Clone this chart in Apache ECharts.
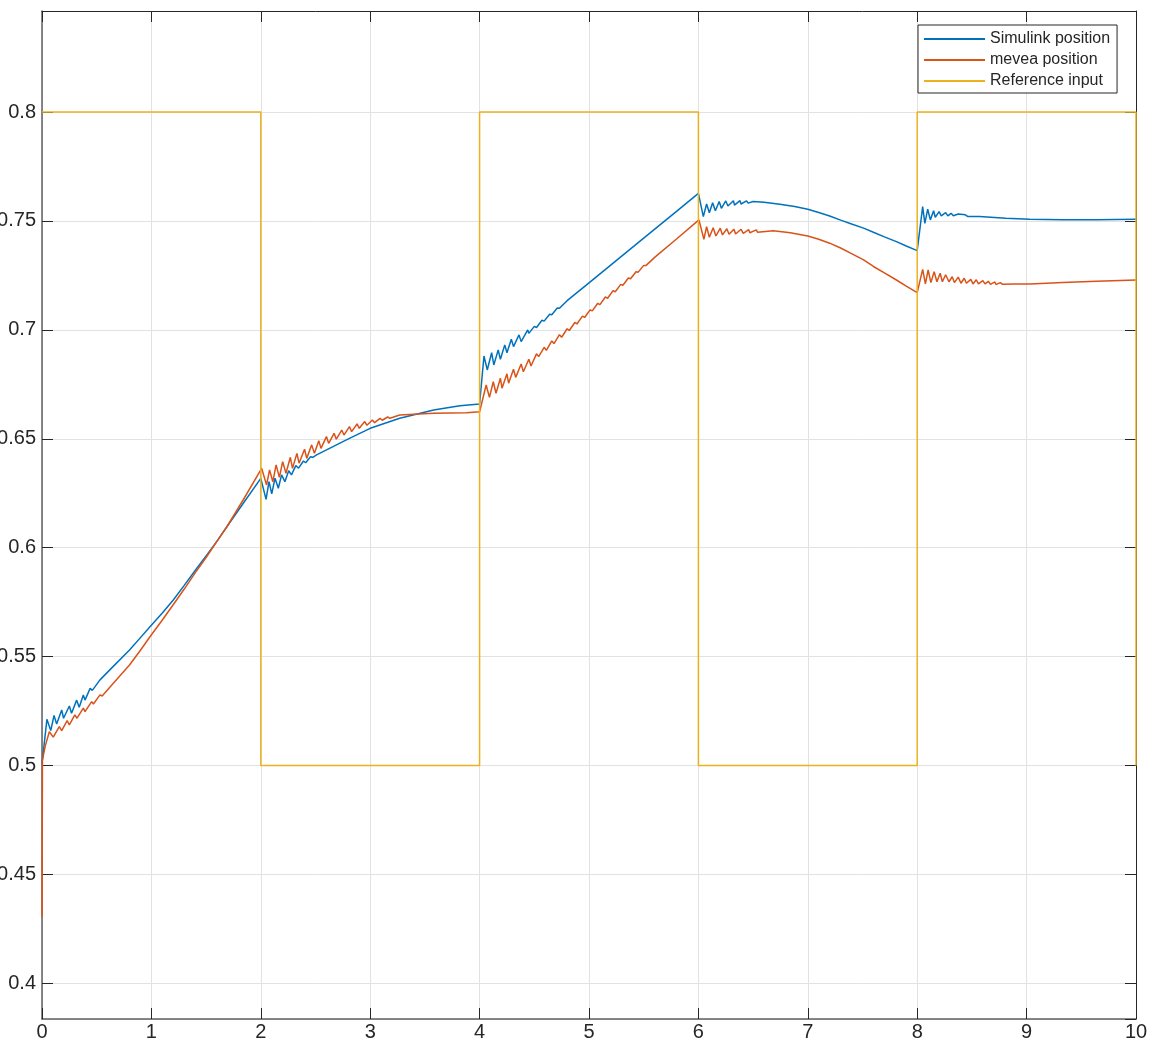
<!DOCTYPE html>
<html>
<head>
<meta charset="utf-8">
<title>Position response</title>
<script src="https://cdn.jsdelivr.net/npm/echarts@6/dist/echarts.min.js"></script>
<style>
  html, body { margin: 0; padding: 0; background: #fff; }
  #chart { width: 1154px; height: 1043px; }
</style>
</head>
<body>
<div id="chart"></div>
<script>
// Time axis ticks (s)
const xTicks = [0, 1, 2, 3, 4, 5, 6, 7, 8, 9, 10];

// Simulink model response: [time, position]
const simulinkPos = [
  [0.000, 0.5008], [0.045, 0.5212], [0.080, 0.5160], [0.110, 0.5230], [0.134, 0.5190],
  [0.180, 0.5255], [0.197, 0.5217], [0.250, 0.5273], [0.270, 0.5240], [0.317, 0.5300],
  [0.340, 0.5267], [0.378, 0.5324], [0.393, 0.5300], [0.440, 0.5354], [0.460, 0.5345],
  [0.530, 0.5393], [0.620, 0.5439], [0.800, 0.5530], [0.900, 0.5587], [0.987, 0.5637],
  [1.100, 0.5700], [1.200, 0.5760], [1.300, 0.5827], [1.400, 0.5895], [1.500, 0.5962],
  [1.600, 0.6030], [1.690, 0.6096], [1.840, 0.6204], [2.000, 0.6318],
  [2.048, 0.6222], [2.075, 0.6303], [2.100, 0.6247], [2.130, 0.6319], [2.160, 0.6273],
  [2.190, 0.6334], [2.220, 0.6303], [2.255, 0.6353], [2.280, 0.6334], [2.320, 0.6377],
  [2.345, 0.6365], [2.390, 0.6398], [2.410, 0.6390], [2.455, 0.6417], [2.475, 0.6415],
  [2.510, 0.6426], [2.660, 0.6464], [2.810, 0.6502], [3.000, 0.6548], [3.270, 0.6594],
  [3.580, 0.6632], [3.820, 0.6652], [4.000, 0.6660], [4.040, 0.6880], [4.070, 0.6816],
  [4.110, 0.6895], [4.130, 0.6839], [4.170, 0.6908], [4.190, 0.6865], [4.230, 0.6931],
  [4.250, 0.6895], [4.290, 0.6957], [4.310, 0.6923], [4.360, 0.6977], [4.380, 0.6946],
  [4.440, 0.7000], [4.450, 0.6984], [4.500, 0.7016], [4.520, 0.7011], [4.570, 0.7044],
  [4.590, 0.7040], [4.640, 0.7072], [4.660, 0.7069], [4.710, 0.7100], [4.730, 0.7099],
  [4.800, 0.7134], [5.000, 0.7216], [5.500, 0.7421], [5.800, 0.7544], [6.000, 0.7627],
  [6.045, 0.7520], [6.075, 0.7578], [6.100, 0.7538], [6.130, 0.7584], [6.155, 0.7547],
  [6.190, 0.7589], [6.210, 0.7558], [6.250, 0.7592], [6.270, 0.7569], [6.320, 0.7593],
  [6.330, 0.7573], [6.380, 0.7593], [6.390, 0.7578], [6.440, 0.7592], [6.455, 0.7582],
  [6.500, 0.7589], [6.600, 0.7586], [6.745, 0.7577], [6.880, 0.7566], [7.000, 0.7554],
  [7.100, 0.7539], [7.200, 0.7523], [7.300, 0.7504], [7.400, 0.7486], [7.510, 0.7467],
  [7.600, 0.7448], [7.700, 0.7427], [7.810, 0.7405], [7.900, 0.7385], [8.000, 0.7364],
  [8.050, 0.7566], [8.070, 0.7489],
  [8.096, 0.7554], [8.120, 0.7505], [8.150, 0.7547], [8.165, 0.7517], [8.200, 0.7543],
  [8.220, 0.7523], [8.260, 0.7538], [8.280, 0.7523], [8.310, 0.7535], [8.330, 0.7524],
  [8.375, 0.7532], [8.390, 0.7523], [8.440, 0.7528], [8.460, 0.7521], [8.570, 0.7520],
  [8.810, 0.7512], [9.030, 0.7508], [9.330, 0.7505], [9.640, 0.7505], [10.000, 0.7508]
];

// Mevea model response: [time, position]
const meveaPos = [
  [0.000, 0.4305], [0.004, 0.5025], [0.030, 0.5090], [0.067, 0.5155], [0.103, 0.5130],
  [0.158, 0.5178], [0.180, 0.5160], [0.230, 0.5206], [0.250, 0.5186], [0.300, 0.5232],
  [0.320, 0.5217], [0.378, 0.5263], [0.393, 0.5247], [0.454, 0.5293], [0.470, 0.5282],
  [0.530, 0.5324], [0.550, 0.5319], [0.620, 0.5359], [0.800, 0.5461], [0.900, 0.5529],
  [0.987, 0.5591], [1.100, 0.5668], [1.230, 0.5760], [1.300, 0.5810], [1.400, 0.5884],
  [1.500, 0.5955], [1.600, 0.6030], [1.690, 0.6096], [1.840, 0.6220],
  [2.008, 0.6364], [2.053, 0.6288], [2.080, 0.6357], [2.110, 0.6303], [2.140, 0.6380],
  [2.170, 0.6323], [2.200, 0.6395], [2.230, 0.6342], [2.270, 0.6415], [2.290, 0.6364],
  [2.330, 0.6433], [2.350, 0.6388], [2.400, 0.6452], [2.420, 0.6410], [2.465, 0.6472],
  [2.490, 0.6433], [2.530, 0.6491], [2.550, 0.6456], [2.600, 0.6510], [2.620, 0.6479],
  [2.670, 0.6525], [2.690, 0.6498], [2.740, 0.6540], [2.760, 0.6517], [2.810, 0.6556],
  [2.830, 0.6533], [2.880, 0.6568], [2.900, 0.6548], [2.950, 0.6579], [2.970, 0.6562],
  [3.020, 0.6586], [3.040, 0.6574], [3.090, 0.6594], [3.110, 0.6585], [3.160, 0.6600],
  [3.180, 0.6594], [3.270, 0.6609], [3.580, 0.6617], [3.880, 0.6620], [4.000, 0.6624],
  [4.060, 0.6747], [4.090, 0.6690], [4.125, 0.6762], [4.150, 0.6709], [4.190, 0.6778],
  [4.205, 0.6732], [4.250, 0.6798], [4.265, 0.6755], [4.310, 0.6819], [4.330, 0.6782],
  [4.380, 0.6843], [4.400, 0.6808], [4.450, 0.6865], [4.470, 0.6834], [4.520, 0.6890],
  [4.540, 0.6877], [4.590, 0.6920], [4.610, 0.6906], [4.660, 0.6949], [4.680, 0.6937],
  [4.730, 0.6978], [4.750, 0.6966], [4.800, 0.7005], [4.820, 0.6997], [4.870, 0.7034],
  [4.890, 0.7027], [4.940, 0.7063], [4.960, 0.7057], [5.010, 0.7092], [5.030, 0.7087],
  [5.080, 0.7122], [5.100, 0.7116], [5.150, 0.7151], [5.170, 0.7145], [5.220, 0.7180],
  [5.240, 0.7175], [5.290, 0.7209], [5.310, 0.7205], [5.360, 0.7238], [5.380, 0.7235],
  [5.430, 0.7267], [5.450, 0.7265], [5.500, 0.7296], [5.520, 0.7295], [5.600, 0.7333],
  [5.800, 0.7417], [6.005, 0.7505], [6.050, 0.7416], [6.075, 0.7474], [6.100, 0.7425],
  [6.135, 0.7469], [6.160, 0.7431], [6.200, 0.7467], [6.220, 0.7436], [6.260, 0.7464],
  [6.280, 0.7439], [6.325, 0.7462], [6.340, 0.7440], [6.390, 0.7462], [6.410, 0.7443],
  [6.460, 0.7460], [6.470, 0.7446], [6.530, 0.7459], [6.540, 0.7448], [6.685, 0.7455],
  [6.840, 0.7446], [7.000, 0.7431], [7.100, 0.7416], [7.200, 0.7398], [7.300, 0.7376],
  [7.400, 0.7350], [7.510, 0.7321], [7.600, 0.7291], [7.700, 0.7262], [7.810, 0.7229],
  [7.900, 0.7201], [8.000, 0.7171], [8.050, 0.7278], [8.075, 0.7211], [8.100, 0.7275], [8.125, 0.7217],
  [8.155, 0.7267], [8.180, 0.7221], [8.210, 0.7260], [8.230, 0.7221], [8.260, 0.7253],
  [8.290, 0.7221], [8.320, 0.7244], [8.340, 0.7217], [8.375, 0.7242], [8.400, 0.7214],
  [8.430, 0.7237], [8.450, 0.7214], [8.490, 0.7232], [8.510, 0.7211], [8.540, 0.7230],
  [8.560, 0.7211], [8.600, 0.7226], [8.620, 0.7211], [8.650, 0.7223], [8.670, 0.7209],
  [8.710, 0.7220], [8.720, 0.7208], [8.760, 0.7217], [8.780, 0.7209], [8.880, 0.7211],
  [9.030, 0.7211], [9.330, 0.7217], [9.640, 0.7223], [10.000, 0.7229]
];

// Square-wave reference command: [time, position]
const referenceInput = [
  [0, 0.8], [2, 0.8], [2, 0.5], [4, 0.5], [4, 0.8], [6, 0.8],
  [6, 0.5], [8, 0.5], [8, 0.8], [10, 0.8], [10, 0.5]
];

const seriesNames = ['Simulink position', 'mevea position', 'Reference input'];
const seriesColors = ['#0072BD', '#D95319', '#EDB120'];

const FONT = '"Liberation Sans", Arial, Helvetica, sans-serif';
const Y_MIN = 0.3836, Y_MAX = 0.8464;

const chart = echarts.init(document.getElementById('chart'), null, { renderer: 'canvas' });

// Top and right frame edges: line plus inward ticks, no labels
const frameAxis = {
  axisLine: { show: true, onZero: false, lineStyle: { color: '#262626', width: 1 } },
  axisTick: { show: true, inside: true, length: 11, lineStyle: { color: '#262626', width: 1 } },
  axisLabel: { show: false },
  splitLine: { show: false }
};

chart.setOption({
  animation: false,
  backgroundColor: '#ffffff',
  grid: {
    left: 42, right: 18, top: 11, bottom: 24,
    containLabel: false,
    outerBoundsMode: 'none'
  },
  legend: {
    data: seriesNames,
    orient: 'vertical',
    left: 918,
    top: 25,
    padding: [5, 7, 3, 6],
    icon: 'rect',
    itemWidth: 61,
    itemHeight: 2,
    itemGap: 3,
    backgroundColor: '#ffffff',
    borderColor: '#262626',
    borderWidth: 1,
    borderRadius: 0,
    textStyle: { fontFamily: FONT, fontSize: 16, color: '#262626', lineHeight: 18 }
  },
  xAxis: [
    {
      type: 'value',
      position: 'bottom',
      min: xTicks[0],
      max: xTicks[xTicks.length - 1],
      interval: 1,
      axisLine: { show: true, onZero: false, lineStyle: { color: '#606060', width: 1.5 } },
      axisTick: { show: true, inside: true, length: 11, lineStyle: { color: '#262626', width: 1 } },
      axisLabel: { show: true, margin: 3, fontFamily: FONT, fontSize: 20, color: '#262626' },
      splitLine: { show: true, lineStyle: { color: '#e2e2e2', width: 1 } }
    },
    Object.assign({
      type: 'value',
      position: 'top',
      min: xTicks[0],
      max: xTicks[xTicks.length - 1],
      interval: 1
    }, frameAxis)
  ],
  yAxis: [
    {
      type: 'value',
      position: 'left',
      min: Y_MIN,
      max: Y_MAX,
      splitNumber: 9,
      minInterval: 0.05,
      maxInterval: 0.05,
      axisLine: { show: true, onZero: false, lineStyle: { color: '#606060', width: 1.5 } },
      axisTick: { show: true, inside: true, length: 11, lineStyle: { color: '#262626', width: 1 } },
      axisLabel: {
        show: true, margin: 6, fontFamily: FONT, fontSize: 20, color: '#262626',
        showMinLabel: false, showMaxLabel: false
      },
      splitLine: { show: true, lineStyle: { color: '#e2e2e2', width: 1 } }
    },
    Object.assign({
      type: 'value',
      position: 'right',
      min: Y_MIN,
      max: Y_MAX,
      splitNumber: 9,
      minInterval: 0.05,
      maxInterval: 0.05
    }, frameAxis)
  ],
  series: [
    {
      name: seriesNames[0], type: 'line', data: simulinkPos,
      xAxisIndex: 0, yAxisIndex: 0,
      symbol: 'none', smooth: false, z: 2,
      lineStyle: { color: seriesColors[0], width: 1.5 },
      itemStyle: { color: seriesColors[0] }
    },
    {
      name: seriesNames[1], type: 'line', data: meveaPos,
      xAxisIndex: 0, yAxisIndex: 0,
      symbol: 'none', smooth: false, z: 3,
      lineStyle: { color: seriesColors[1], width: 1.5 },
      itemStyle: { color: seriesColors[1] }
    },
    {
      name: seriesNames[2], type: 'line', data: referenceInput,
      xAxisIndex: 0, yAxisIndex: 0,
      symbol: 'none', smooth: false, z: 4,
      lineStyle: { color: seriesColors[2], width: 1.5 },
      itemStyle: { color: seriesColors[2] }
    }
  ]
});
</script>
</body>
</html>
